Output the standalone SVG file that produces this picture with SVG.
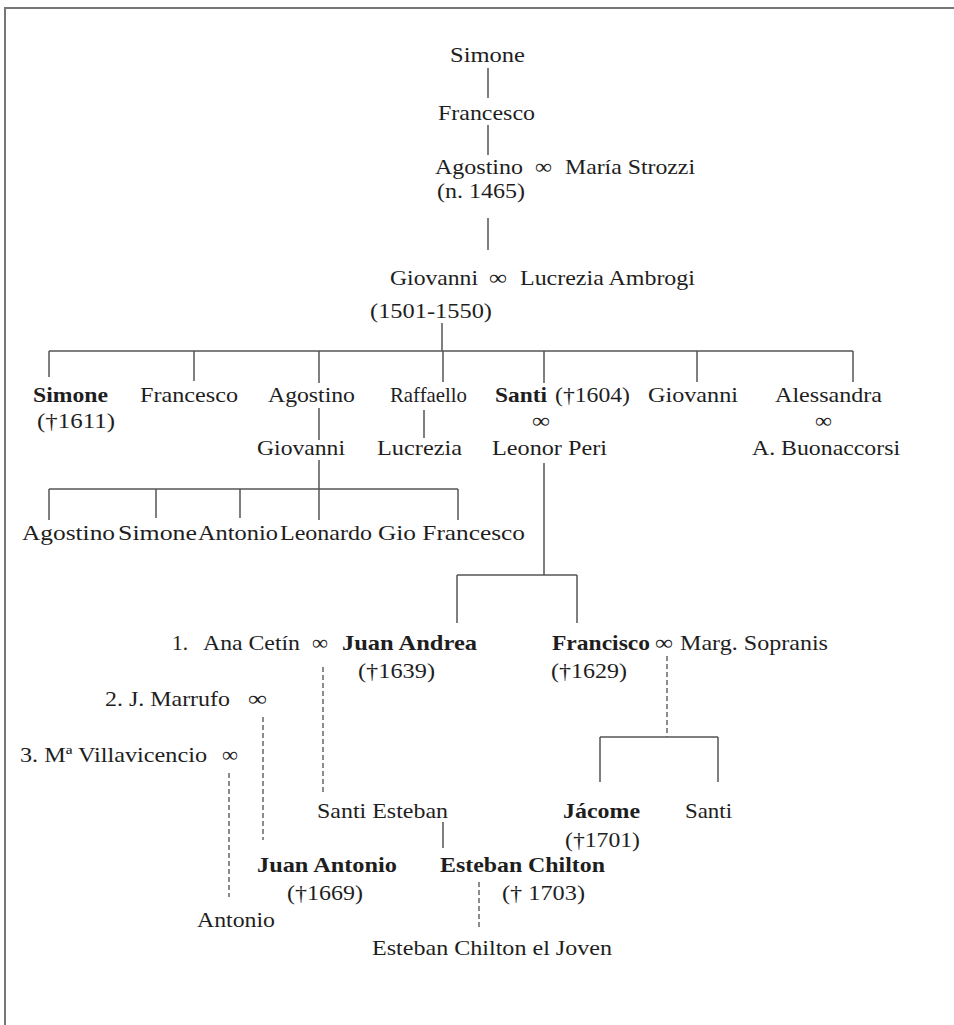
<svg xmlns="http://www.w3.org/2000/svg" width="954" height="1025" viewBox="0 0 954 1025">
<style>
text{font-family:"Liberation Serif","Times New Roman",serif;font-size:22px;fill:#1e1e1e;}
.b{font-weight:bold;}
.s{stroke:#555;stroke-width:1.5;fill:none;}
.d{stroke:#666;stroke-width:1.5;fill:none;stroke-dasharray:5 3;}
.f{stroke:#777;stroke-width:2;fill:none;}
</style>
<rect width="954" height="1025" fill="#fff"/>
<g id="frame"><path class="f" d="M4,8H954M5,8V1025"/></g>
<g id="connectors">
<path class="s" d="M488,68V98M488,125V155M488,218V250M442,323V351M49,351H853M49,351V377M194,351V381M319,351V383M443,351V382M544,351V383M697,351V382M853,351V382M319,408V440M424,410V438M319,460V520M49,489H458M49,489V520M156,489V518M240,489V518M458,489V520M544,463V575M457,575H577M457,575V623M577,575V623M600,737H718M600,737V782M718,737V782M443,822V848"/>
<path class="d" d="M323,667V792M263,717V840M229,773V897M667,656V737M479,882V927"/>
</g>
<g id="n-simone-top"><text x="450" y="62" textLength="75" lengthAdjust="spacingAndGlyphs">Simone</text></g>
<g id="n-francesco-top"><text x="438" y="120" textLength="97" lengthAdjust="spacingAndGlyphs">Francesco</text></g>
<g id="n-agostino"><text x="435" y="174" textLength="88" lengthAdjust="spacingAndGlyphs">Agostino</text><text x="535" y="174" textLength="17" lengthAdjust="spacingAndGlyphs">∞</text><text x="565" y="174" textLength="130" lengthAdjust="spacingAndGlyphs">María Strozzi</text><text x="437" y="198" textLength="88" lengthAdjust="spacingAndGlyphs">(n. 1465)</text></g>
<g id="n-giovanni"><text x="390" y="285" textLength="88" lengthAdjust="spacingAndGlyphs">Giovanni</text><text x="489" y="285" textLength="18" lengthAdjust="spacingAndGlyphs">∞</text><text x="520" y="285" textLength="175" lengthAdjust="spacingAndGlyphs">Lucrezia Ambrogi</text><text x="370" y="318" textLength="122" lengthAdjust="spacingAndGlyphs">(1501-1550)</text></g>
<g id="n-simone"><text class="b" x="33" y="402" textLength="75" lengthAdjust="spacingAndGlyphs">Simone</text><text x="37" y="428" textLength="78" lengthAdjust="spacingAndGlyphs">(†1611)</text></g>
<g id="n-francesco"><text x="140" y="402" textLength="98" lengthAdjust="spacingAndGlyphs">Francesco</text></g>
<g id="n-agostino2"><text x="268" y="402" textLength="87" lengthAdjust="spacingAndGlyphs">Agostino</text></g>
<g id="n-raffaello"><text x="390" y="402" textLength="77" lengthAdjust="spacingAndGlyphs">Raffaello</text></g>
<g id="n-santi"><text class="b" x="495" y="402" textLength="52" lengthAdjust="spacingAndGlyphs">Santi</text><text x="555" y="402" textLength="75" lengthAdjust="spacingAndGlyphs">(†1604)</text><text x="532" y="428" textLength="18" lengthAdjust="spacingAndGlyphs">∞</text><text x="492" y="455" textLength="115" lengthAdjust="spacingAndGlyphs">Leonor Peri</text></g>
<g id="n-giovanni2"><text x="648" y="402" textLength="90" lengthAdjust="spacingAndGlyphs">Giovanni</text></g>
<g id="n-alessandra"><text x="775" y="402" textLength="107" lengthAdjust="spacingAndGlyphs">Alessandra</text><text x="815" y="428" textLength="17" lengthAdjust="spacingAndGlyphs">∞</text><text x="752" y="455" textLength="148" lengthAdjust="spacingAndGlyphs">A. Buonaccorsi</text></g>
<g id="n-giovanni3"><text x="257" y="455" textLength="88" lengthAdjust="spacingAndGlyphs">Giovanni</text></g>
<g id="n-lucrezia"><text x="377" y="455" textLength="85" lengthAdjust="spacingAndGlyphs">Lucrezia</text></g>
<g id="n-agostino3"><text x="22" y="540" textLength="93" lengthAdjust="spacingAndGlyphs">Agostino</text></g>
<g id="n-simone3"><text x="118" y="540" textLength="79" lengthAdjust="spacingAndGlyphs">Simone</text></g>
<g id="n-antonio3"><text x="198" y="540" textLength="80" lengthAdjust="spacingAndGlyphs">Antonio</text></g>
<g id="n-leonardo"><text x="280" y="540" textLength="92" lengthAdjust="spacingAndGlyphs">Leonardo</text></g>
<g id="n-giofrancesco"><text x="378" y="540" textLength="147" lengthAdjust="spacingAndGlyphs">Gio Francesco</text></g>
<g id="n-juanandrea"><text x="172" y="650" textLength="16" lengthAdjust="spacingAndGlyphs">1.</text><text x="203" y="650" textLength="97" lengthAdjust="spacingAndGlyphs">Ana Cetín</text><text x="312" y="650" textLength="16" lengthAdjust="spacingAndGlyphs">∞</text><text class="b" x="342" y="650" textLength="135" lengthAdjust="spacingAndGlyphs">Juan Andrea</text><text x="358" y="678" textLength="77" lengthAdjust="spacingAndGlyphs">(†1639)</text></g>
<g id="n-marrufo"><text x="105" y="706" textLength="125" lengthAdjust="spacingAndGlyphs">2. J. Marrufo</text><text x="248" y="706" textLength="19" lengthAdjust="spacingAndGlyphs">∞</text></g>
<g id="n-villavicencio"><text x="20" y="762" textLength="187" lengthAdjust="spacingAndGlyphs">3. Mª Villavicencio</text><text x="222" y="762" textLength="16" lengthAdjust="spacingAndGlyphs">∞</text></g>
<g id="n-francisco"><text class="b" x="552" y="650" textLength="98" lengthAdjust="spacingAndGlyphs">Francisco</text><text x="655" y="650" textLength="18" lengthAdjust="spacingAndGlyphs">∞</text><text x="680" y="650" textLength="148" lengthAdjust="spacingAndGlyphs">Marg. Sopranis</text><text x="551" y="678" textLength="76" lengthAdjust="spacingAndGlyphs">(†1629)</text></g>
<g id="n-santiesteban"><text x="317" y="818" textLength="131" lengthAdjust="spacingAndGlyphs">Santi Esteban</text></g>
<g id="n-jacome"><text class="b" x="563" y="818" textLength="77" lengthAdjust="spacingAndGlyphs">Jácome</text><text x="565" y="847" textLength="75" lengthAdjust="spacingAndGlyphs">(†1701)</text></g>
<g id="n-santi2"><text x="685" y="818" textLength="47" lengthAdjust="spacingAndGlyphs">Santi</text></g>
<g id="n-juanantonio"><text class="b" x="257" y="872" textLength="140" lengthAdjust="spacingAndGlyphs">Juan Antonio</text><text x="287" y="900" textLength="76" lengthAdjust="spacingAndGlyphs">(†1669)</text></g>
<g id="n-estebanchilton"><text class="b" x="440" y="872" textLength="165" lengthAdjust="spacingAndGlyphs">Esteban Chilton</text><text x="502" y="900" textLength="83" lengthAdjust="spacingAndGlyphs">(† 1703)</text></g>
<g id="n-antonio"><text x="197" y="927" textLength="78" lengthAdjust="spacingAndGlyphs">Antonio</text></g>
<g id="n-joven"><text x="372" y="955" textLength="240" lengthAdjust="spacingAndGlyphs">Esteban Chilton el Joven</text></g>
</svg>
